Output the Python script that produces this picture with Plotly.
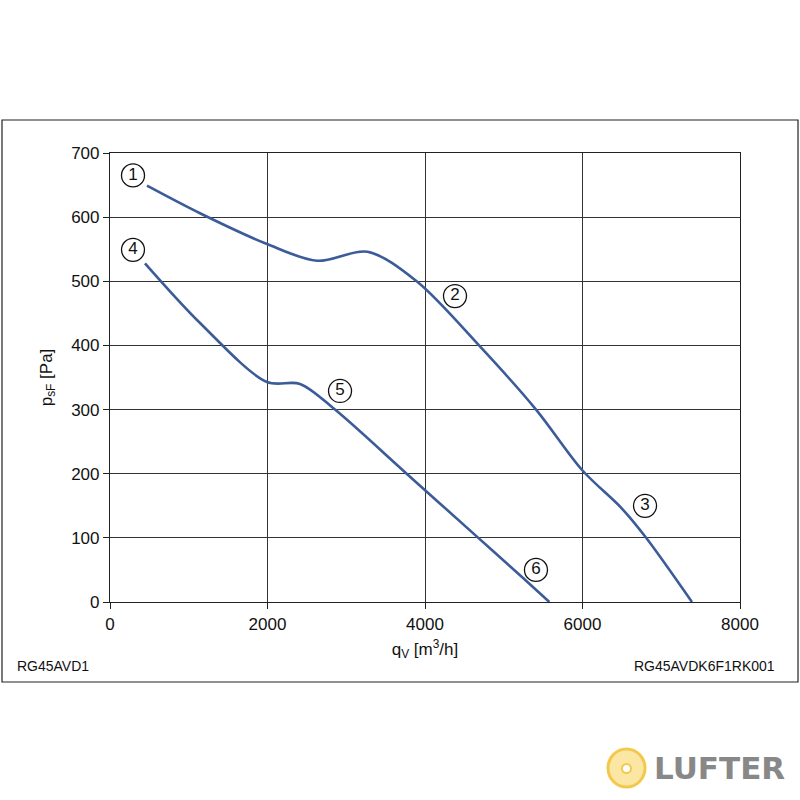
import plotly.graph_objects as go

# Curve 1-2-3 (upper)
q_upper = [470, 1143, 1994, 2630, 3270, 3894, 4686, 5410, 6000, 6498, 6815, 7390]
p_upper = [649, 606, 558, 532, 546, 500, 400, 300, 205, 146, 99, 0]
# Curve 4-5-6 (lower)
q_lower = [444, 1143, 1994, 2413, 2857, 3767, 4677, 5249, 5579]
p_lower = [528, 435, 343, 340, 300, 200, 100, 37, 0]
# Point labels
label_text = ["1", "2", "3", "4", "5", "6"]
label_q = [292, 4381, 6794, 292, 2921, 5409]
label_p = [665, 477, 150, 549, 329, 50]

x_ticks = [0, 2000, 4000, 6000, 8000]
y_ticks = [0, 100, 200, 300, 400, 500, 600, 700]

line_color = "#3b5b99"
font_family = "Liberation Sans, Arial, sans-serif"

fig = go.Figure()
for qs, ps in ((q_upper, p_upper), (q_lower, p_lower)):
    fig.add_trace(go.Scatter(x=qs, y=ps, mode="lines",
                             line=dict(color=line_color, width=2.6, shape="spline", smoothing=0.9),
                             hoverinfo="skip", cliponaxis=False))
fig.add_trace(go.Scatter(x=label_q, y=label_p, mode="markers+text", text=label_text,
                         textposition="middle center",
                         textfont=dict(family=font_family, size=17, color="#111"),
                         marker=dict(symbol="circle", size=23, color="white",
                                     line=dict(color="#111", width=1.3)),
                         hoverinfo="skip", cliponaxis=False))

L, R, T, B = 110, 60, 153, 198
pw = 800 - L - R
ph = 800 - T - B

def px(x):
    return (x - L) / pw

def py(y):
    return (800 - B - y) / ph

fig.update_layout(
    width=800, height=800,
    margin=dict(l=L, r=R, t=T, b=B),
    paper_bgcolor="white", plot_bgcolor="white",
    showlegend=False,
    font=dict(family=font_family, size=17, color="#111"),
    xaxis=dict(range=[0, 8000], tickvals=x_ticks, ticks="outside", ticklen=6,
               tickcolor="#222", showline=True, linecolor="#222", linewidth=1.2, mirror=True,
               showgrid=True, gridcolor="#333", gridwidth=1, zeroline=False,
               tickfont=dict(size=17),
               title=dict(text="q<sub>V</sub> [m<sup>3</sup>/h]", standoff=10, font=dict(size=17))),
    yaxis=dict(range=[0, 700], tickvals=y_ticks, ticks="outside", ticklen=6,
               tickcolor="#222", showline=True, linecolor="#222", linewidth=1.2, mirror=True,
               showgrid=True, gridcolor="#333", gridwidth=1, zeroline=False,
               tickfont=dict(size=17),
               title=dict(text="p<sub>sF</sub> [Pa]", standoff=14, font=dict(size=17))),
    shapes=[
        dict(type="rect", xref="paper", yref="paper",
             x0=px(2), x1=px(798), y0=py(682), y1=py(120),
             line=dict(color="#222", width=1.2), fillcolor="rgba(0,0,0,0)", layer="below"),
        dict(type="circle", xref="paper", yref="paper",
             x0=px(608), x1=px(645), y0=py(787), y1=py(749),
             line=dict(color="#f2c94c", width=3), fillcolor="#fbe7a3"),
        dict(type="circle", xref="paper", yref="paper",
             x0=px(622), x1=px(631), y0=py(773), y1=py(764),
             line=dict(color="#f2c94c", width=2), fillcolor="white"),
    ],
    annotations=[
        dict(text="RG45AVD1", xref="paper", yref="paper", x=px(15), y=py(666),
             xanchor="left", yanchor="middle", showarrow=False, font=dict(size=14)),
        dict(text="RG45AVDK6F1RK001", xref="paper", yref="paper", x=px(777), y=py(666),
             xanchor="right", yanchor="middle", showarrow=False, font=dict(size=14)),
        dict(text="<b>LUFTER</b>", xref="paper", yref="paper", x=px(652), y=py(768),
             xanchor="left", yanchor="middle", showarrow=False,
             font=dict(size=31, color="#888888", family="DejaVu Sans, sans-serif")),
    ],
)

fig.write_html("out.html")
